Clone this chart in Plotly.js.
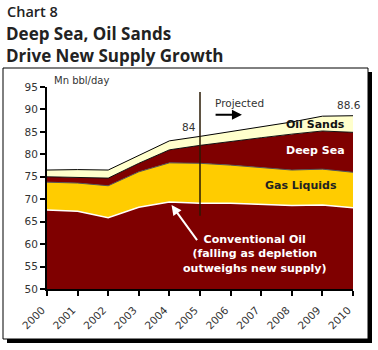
<!DOCTYPE html>
<html>
<head>
<meta charset="utf-8">
<script src="https://cdn.plot.ly/plotly-3.0.1.min.js"></script>
<style>
  html, body { margin: 0; padding: 0; background: #fff; }
  #chart { width: 378px; height: 350px; }
</style>
</head>
<body>
<div id="chart"></div>
<script>
// ---- data (Mn bbl/day) ----
const years = [2000, 2001, 2002, 2003, 2004, 2005, 2006, 2007, 2008, 2009, 2010];
const yearLabels = ["2000", "2001", "2002", "2003", "2004", "2005", "2006", "2007", "2008", "2009", "2010"];
const conventionalOil = [67.6, 67.3, 65.9, 68.2, 69.4, 69.1, 69.1, 68.9, 68.6, 68.7, 68.1];
const gasLiquids      = [6.2, 6.3, 7.1, 7.9, 8.7, 8.9, 8.5, 8.1, 7.9, 8.0, 7.9];
const deepSea         = [1.2, 1.3, 1.7, 1.9, 2.9, 4.0, 5.3, 6.7, 8.0, 8.5, 8.9];
const oilSands        = [1.5, 1.7, 1.8, 1.8, 2.0, 2.0, 2.2, 2.5, 2.7, 3.3, 3.7];
const yTicks = [50, 55, 60, 65, 70, 75, 80, 85, 90, 95];

const darkRed = "#7f0000";
const yellow = "#ffcc00";
const paleYellow = "#ffffcc";
const tickFont = { family: "DejaVu Sans, Verdana, sans-serif", size: 10.5, color: "#333" };
const boldFont = "DejaVu Sans, Verdana, sans-serif";

const traces = [
  { x: years, y: conventionalOil, name: "Conventional Oil", type: "scatter", mode: "lines",
    stackgroup: "s", fillcolor: darkRed, line: { color: "#ffffff", width: 1.5 } },
  { x: years, y: gasLiquids, name: "Gas Liquids", type: "scatter", mode: "lines",
    stackgroup: "s", fillcolor: yellow, line: { color: "#555555", width: 1 } },
  { x: years, y: deepSea, name: "Deep Sea", type: "scatter", mode: "lines",
    stackgroup: "s", fillcolor: darkRed, line: { color: "#111111", width: 1 } },
  { x: years, y: oilSands, name: "Oil Sands", type: "scatter", mode: "lines",
    stackgroup: "s", fillcolor: paleYellow, line: { color: "#000000", width: 1 } }
];

// plot area pixel mapping helpers for the frame (paper coords)
const L = 47, R = 353, T = 87, B = 289;
const px = v => (v - L) / (R - L);
const py = v => (B - v) / (B - T);

const layout = {
  width: 378, height: 350,
  margin: { l: L, r: 378 - R, t: T, b: 350 - B, pad: 0 },
  paper_bgcolor: "#ffffff",
  plot_bgcolor: "rgba(0,0,0,0)",
  showlegend: false,
  xaxis: {
    type: "linear", range: [2000, 2010],
    tickvals: years, ticktext: yearLabels, tickangle: -45,
    ticks: "outside", ticklen: 5, tickwidth: 2, tickcolor: "#000",
    ticklabelstandoff: 4, ticklabelshift: -5,
    showline: true, linecolor: "#000", linewidth: 2,
    showgrid: false, zeroline: false, tickfont: tickFont
  },
  yaxis: {
    range: [50, 95], tickvals: yTicks,
    ticks: "outside", ticklen: 5, tickwidth: 2, tickcolor: "#000",
    showline: true, linecolor: "#000", linewidth: 2,
    showgrid: false, zeroline: false, tickfont: tickFont
  },
  shapes: [
    // frame shadow and frame
    { type: "rect", xref: "paper", yref: "paper", layer: "below",
      x0: px(7), x1: px(372), y0: py(343), y1: py(72),
      fillcolor: "#000", line: { width: 0 } },
    { type: "rect", xref: "paper", yref: "paper", layer: "below",
      x0: px(3), x1: px(368), y0: py(339), y1: py(68),
      fillcolor: "#fff", line: { color: "#000", width: 1 } },
    // projection divider at 2005
    { type: "line", xref: "x", yref: "y", x0: 2005, x1: 2005, y0: 66.3, y1: 93.9,
      line: { color: "#2a1a05", width: 1.5 } }
  ],
  annotations: [
    { xref: "paper", yref: "paper", x: px(5), y: py(12), xanchor: "left", yanchor: "middle",
      text: "Chart 8", showarrow: false,
      font: { family: "Open Sans, sans-serif", size: 14.5, color: "#222", weight: 600 } },
    { xref: "paper", yref: "paper", x: px(4), y: py(33.5), xanchor: "left", yanchor: "middle",
      text: "Deep Sea, Oil Sands", showarrow: false,
      font: { family: "Open Sans, sans-serif", size: 17, color: "#222", weight: 700 } },
    { xref: "paper", yref: "paper", x: px(4), y: py(55.5), xanchor: "left", yanchor: "middle",
      text: "Drive New Supply Growth", showarrow: false,
      font: { family: "Open Sans, sans-serif", size: 17, color: "#222", weight: 700 } },
    { xref: "paper", yref: "paper", x: px(52), y: py(80), xanchor: "left", yanchor: "middle",
      text: "Mn bbl/day", showarrow: false,
      font: { family: "DejaVu Sans, Verdana, sans-serif", size: 10, color: "#333" } },
    { xref: "x", yref: "y", x: 2004.95, y: 86.2, xanchor: "right", yanchor: "middle",
      text: "84", showarrow: false, font: tickFont },
    { xref: "x", yref: "y", x: 2009.87, y: 91.0, xanchor: "center", yanchor: "middle",
      text: "88.6", showarrow: false, font: tickFont },
    { xref: "x", yref: "y", x: 2005.42, y: 91.4, xanchor: "left", yanchor: "middle",
      text: "Projected", showarrow: false, font: tickFont },
    { xref: "x", yref: "y", axref: "x", ayref: "y", x: 2006.37, y: 88.8, ax: 2005.46, ay: 88.8,
      text: "", showarrow: true, arrowhead: 2, arrowsize: 1, arrowwidth: 2, arrowcolor: "#000" },
    { xref: "x", yref: "y", x: 2008.76, y: 86.7, xanchor: "center", yanchor: "middle",
      text: "Oil Sands", showarrow: false,
      font: { family: boldFont, size: 11, color: "#111", weight: 700 } },
    { xref: "x", yref: "y", x: 2008.76, y: 80.75, xanchor: "center", yanchor: "middle",
      text: "Deep Sea", showarrow: false,
      font: { family: boldFont, size: 11, color: "#fff", weight: 700 } },
    { xref: "x", yref: "y", x: 2008.3, y: 73.0, xanchor: "center", yanchor: "middle",
      text: "Gas Liquids", showarrow: false,
      font: { family: boldFont, size: 11, color: "#222", weight: 700 } },
    { xref: "x", yref: "y", x: 2006.8, y: 57.8, xanchor: "center", yanchor: "middle",
      text: "Conventional Oil<br>(falling as depletion<br>outweighs new supply)", showarrow: false,
      align: "center",
      font: { family: boldFont, size: 11, color: "#fff", weight: 700 } },
    { xref: "x", yref: "y", axref: "x", ayref: "y", x: 2004.07, y: 68.7, ax: 2004.94, ay: 60.55,
      text: "", showarrow: true, arrowhead: 2, arrowsize: 1, arrowwidth: 2, arrowcolor: "#fff" }
  ]
};

Plotly.newPlot("chart", traces, layout, { staticPlot: true, displayModeBar: false });
</script>
</body>
</html>
